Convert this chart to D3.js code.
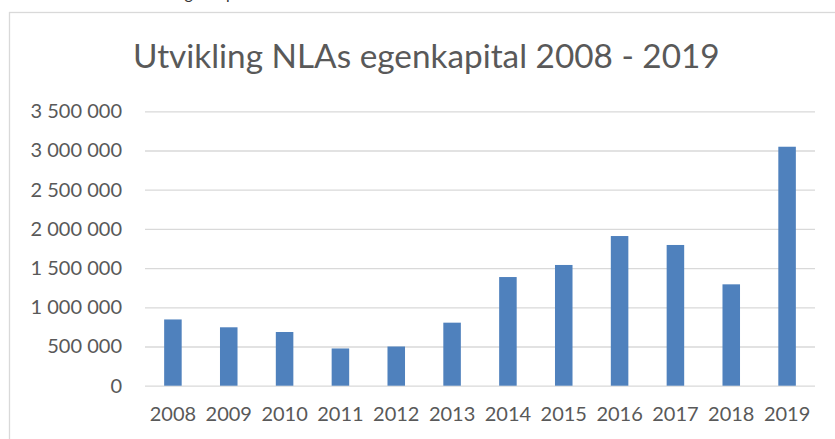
<!DOCTYPE html>
<html>
<head>
<meta charset="utf-8">
<script src="https://cdn.jsdelivr.net/npm/d3@7"></script>
<style>
  body { margin: 0; background: #fff; }
  text { font-family: Lato, "Open Sans", sans-serif; fill: #595959; }
</style>
</head>
<body>
<div id="chart"></div>
<script>
// data
const years = ['2008', '2009', '2010', '2011', '2012', '2013', '2014', '2015', '2016', '2017', '2018', '2019'];
const equity = [845000, 745000, 685000, 475000, 500000, 804000, 1386000, 1540000, 1909000, 1795000, 1293000, 3048000];
const yTicks = [0, 500000, 1000000, 1500000, 2000000, 2500000, 3000000, 3500000];
const title = 'Utvikling NLAs egenkapital 2008 - 2019';

const svgWidth = 835;
const svgHeight = 439;

const svg = d3.select('#chart')
    .append('svg')
    .attr('width', svgWidth)
    .attr('height', svgHeight);

// leftover text line from the page above, only descenders show
svg.append('text')
    .attr('x', 176)
    .attr('y', -1)
    .style('font-size', '16px')
    .style('fill', '#333')
    .text('egenkapital');

// chart frame (runs off right and bottom)
svg.append('rect')
    .attr('x', 9.5)
    .attr('y', 12.5)
    .attr('width', 900)
    .attr('height', 500)
    .attr('fill', '#fff')
    .attr('stroke', '#d9d9d9')
    .attr('stroke-width', 1.3);

const plot = {left: 145, right: 815, top: 111.3, bottom: 385.7};

const xScale = d3.scaleBand()
    .domain(years)
    .range([plot.left, plot.right])
    .paddingInner(0.686)
    .paddingOuter(0.343);

const yScale = d3.scaleLinear()
    .domain([0, 3500000])
    .range([plot.bottom, plot.top]);

const fmt = d3.formatLocale({decimal: ',', thousands: ' ', grouping: [3], currency: ['', '']}).format(',d');

// gridlines + y labels
const leftAxis = d3.axisLeft(yScale)
    .tickValues(yTicks)
    .tickFormat(fmt)
    .tickSize(-(plot.right - plot.left))
    .tickPadding(23);

const gy = svg.append('g')
    .attr('transform', `translate(${plot.left}, 0)`)
    .call(leftAxis);
gy.select('.domain').remove();
gy.selectAll('line').attr('stroke', '#d9d9d9').attr('stroke-width', 1.3);
gy.selectAll('text')
    .style('font-size', '20px')
    .style('fill', '#595959')
    .style('font-family', 'Lato');

// bars
svg.selectAll('.bar')
    .data(years)
    .enter()
    .append('rect')
    .attr('class', 'bar')
    .attr('x', d => xScale(d))
    .attr('width', xScale.bandwidth())
    .attr('y', (d, i) => yScale(equity[i]))
    .attr('height', (d, i) => yScale(0) - yScale(equity[i]))
    .attr('fill', '#4f81bd');

// x axis labels
const bottomAxis = d3.axisBottom(xScale).tickSize(0).tickPadding(21);
const gx = svg.append('g')
    .attr('transform', `translate(0, ${plot.bottom})`)
    .call(bottomAxis);
gx.select('.domain').remove();
gx.selectAll('text')
    .style('font-size', '20px')
    .style('fill', '#595959')
    .style('font-family', 'Lato');

// title, sized to the width it has in the picture
const t = svg.append('text')
    .attr('x', 133)
    .attr('y', 68)
    .style('font-size', '30px')
    .text(title);
const w = t.node().getComputedTextLength();
t.style('font-size', (30 * 587 / w) + 'px');
</script>
</body>
</html>
